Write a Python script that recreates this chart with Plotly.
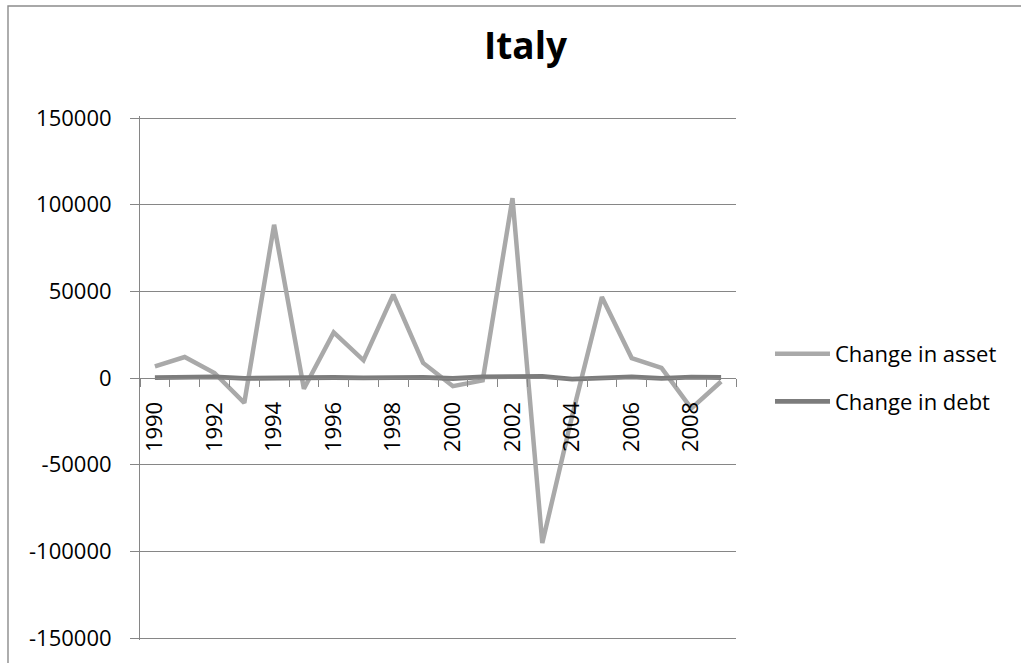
import plotly.graph_objects as go

# Italy: yearly change in asset and change in debt
years = [str(y) for y in range(1990, 2010)]
change_in_asset = [6700, 12100, 2900, -14400, 88400, -6200, 26300, 10200, 48100, 8700,
                   -4700, -1400, 103800, -95200, -22000, 46700, 11500, 5800, -17500, -2000]
change_in_debt = [200, 500, 600, -200, 100, 200, 300, 100, 300, 400,
                  -300, 600, 800, 900, -600, 100, 600, -200, 500, 300]
year_labels = [y if int(y) % 2 == 0 else "" for y in years]
y_ticks = [-150000, -100000, -50000, 0, 50000, 100000, 150000]
y_tick_labels = [str(v) for v in y_ticks]

W, H = 1021, 663
# the plot box is 2px taller than the gridded band so the outer gridlines are kept
L, R, T, B = 140, 285, 116, 23
PW, PH = W - L - R, H - T - B
Y_LIMIT = 150000 * PH / (PH - 4)

AXIS_GREY = "#868686"
FONT = "Open Sans"

fig = go.Figure()
fig.add_trace(go.Scatter(
    x=years, y=change_in_asset, mode="lines", name="Change in asset",
    legendgroup="asset",
    line=dict(color="#a9a9a9", width=4.5),
))
fig.add_trace(go.Scatter(
    x=years, y=change_in_debt, mode="lines", name="Change in debt",
    legendgroup="debt",
    line=dict(color="#7c7c7c", width=4.8),
))

def px_to_paper_x(px):
    return (px - L) / PW

def px_to_paper_y(py):
    return (H - B - py) / PH

fig.update_layout(
    width=W, height=H,
    margin=dict(l=L, r=R, t=T, b=B, pad=0),
    paper_bgcolor="white", plot_bgcolor="white",
    font=dict(family=FONT, size=22, color="black"),
    title=dict(
        text="<b>Italy</b>", x=525.5 / W, xanchor="center",
        yref="container", y=1 - 46 / H, yanchor="middle",
        font=dict(family=FONT, size=37, color="black"),
    ),
    showlegend=True,
    legend=dict(
        x=px_to_paper_x(770), xanchor="left",
        y=0.5, yanchor="middle",
        font=dict(family=FONT, size=22, color="black"),
        itemwidth=55,
        tracegroupgap=16,
        traceorder="grouped",
        bgcolor="rgba(0,0,0,0)",
    ),
    xaxis=dict(
        type="category", range=[-0.5, len(years) - 0.5],
        tickmode="array", tickvals=years, ticktext=year_labels,
        tickson="boundaries", ticks="outside", ticklen=8, tickcolor=AXIS_GREY, tickwidth=1,
        tickangle=-90, showline=True, linecolor=AXIS_GREY, linewidth=1,
        showgrid=False, zeroline=False,
        anchor="free", position=0.5, ticklabelstandoff=14,
        tickfont=dict(family=FONT, size=22, color="black"),
    ),
    yaxis=dict(
        range=[-Y_LIMIT, Y_LIMIT], tickmode="array",
        tickvals=y_ticks, ticktext=y_tick_labels,
        ticks="outside", ticklen=9, tickcolor=AXIS_GREY, tickwidth=1,
        showline=True, linecolor=AXIS_GREY, linewidth=1,
        showgrid=True, gridcolor=AXIS_GREY, gridwidth=1,
        zeroline=False, ticklabelstandoff=14,
        tickfont=dict(family=FONT, size=22, color="black"),
    ),
    shapes=[dict(
        type="rect", xref="paper", yref="paper",
        x0=px_to_paper_x(8), x1=px_to_paper_x(W + 300),
        y0=px_to_paper_y(H + 300), y1=px_to_paper_y(6),
        line=dict(color="#8c8c8c", width=1.4), fillcolor="rgba(0,0,0,0)",
        layer="below",
    )],
)

fig.write_html("out.html")
